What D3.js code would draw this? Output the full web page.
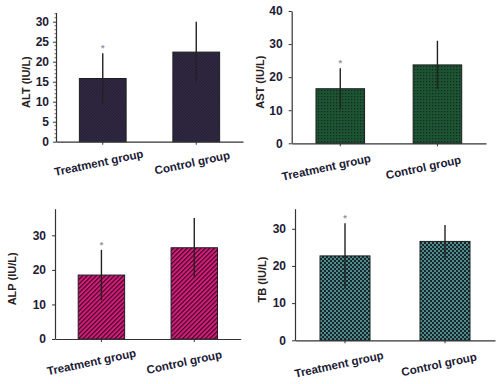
<!DOCTYPE html>
<html>
<head>
<meta charset="utf-8">
<script src="https://cdnjs.cloudflare.com/ajax/libs/d3/7.8.5/d3.min.js"></script>
<style>
  body { margin: 0; background: #fff; }
  svg text { font-family: "Liberation Sans", Arial, sans-serif; font-weight: bold; }
</style>
</head>
<body>
<svg width="500" height="384"></svg>
<script>
// data (mean and SD, IU/L)
var groups = ["Treatment group", "Control group"];
var altMean = [15.8, 22.4], altSd = [6.3, 7.6];
var astMean = [16.5, 23.7], astSd = [6.2, 7.3];
var alpMean = [18.5, 26.4], alpSd = [7.3, 8.6];
var tbMean  = [22.7, 26.6], tbSd  = [8.8, 4.4];
var altTicks = [0, 5, 10, 15, 20, 25, 30];
var astTicks = [0, 10, 20, 30, 40];
var alpTicks = [0, 10, 20, 30];
var tbTicks  = [0, 10, 20, 30];
var signif = [true, false]; // asterisk over treatment

var svg = d3.select("svg");
var defs = svg.append("defs");

// fill patterns
var p1 = defs.append("pattern").attr("id", "pAlt").attr("width", 3).attr("height", 3)
  .attr("patternUnits", "userSpaceOnUse");
p1.append("rect").attr("width", 3).attr("height", 3).attr("fill", "#29223a");
p1.append("path").attr("d", "M0,0L3,3").attr("stroke", "#352d48").attr("stroke-width", 0.8);

var p2 = defs.append("pattern").attr("id", "pAst").attr("width", 3).attr("height", 3)
  .attr("patternUnits", "userSpaceOnUse");
p2.append("rect").attr("width", 3).attr("height", 3).attr("fill", "#1d5434");
p2.append("rect").attr("width", 1.3).attr("height", 1.3).attr("fill", "#0f2c1c");

var p3 = defs.append("pattern").attr("id", "pAlp").attr("width", 3.2).attr("height", 3.2)
  .attr("patternUnits", "userSpaceOnUse").attr("patternTransform", "rotate(45)");
p3.append("rect").attr("width", 3.2).attr("height", 3.2).attr("fill", "#d81c7c");
p3.append("rect").attr("width", 1.2).attr("height", 3.2).attr("fill", "#3a0a24");

var p4 = defs.append("pattern").attr("id", "pTb").attr("width", 4).attr("height", 4)
  .attr("patternUnits", "userSpaceOnUse");
p4.append("rect").attr("width", 4).attr("height", 4).attr("fill", "#18262a");
p4.append("rect").attr("width", 2).attr("height", 2).attr("fill", "#4e8b8e");
p4.append("rect").attr("x", 2).attr("y", 2).attr("width", 2).attr("height", 2).attr("fill", "#4e8b8e");

// one panel per measurement
var panels = [
  {title: "ALT (IU/L)", mean: altMean, sd: altSd, ticks: altTicks, fill: "url(#pAlt)",
   x0: 56, x1: 243, y0: 141.7, y1: 12.5, ymax: 32.3, titleX: 26, labDx: -4, labDy: 21, minor: true},
  {title: "AST (IU/L)", mean: astMean, sd: astSd, ticks: astTicks, fill: "url(#pAst)",
   x0: 291.7, x1: 486, y0: 143.3, y1: 11, ymax: 40, titleX: 260, labDx: -14, labDy: 24, minor: false},
  {title: "ALP (IU/L)", mean: alpMean, sd: alpSd, ticks: alpTicks, fill: "url(#pAlp)",
   x0: 55, x1: 240.7, y0: 339, y1: 208.7, ymax: 37.7, titleX: 12, labDx: -10, labDy: 23, minor: false},
  {title: "TB (IU/L)", mean: tbMean, sd: tbSd, ticks: tbTicks, fill: "url(#pTb)",
   x0: 295, x1: 495, y0: 340.3, y1: 208.7, ymax: 35.4, titleX: 262, labDx: -6, labDy: 24, minor: false}
];

panels.forEach(function(p) {
  var x = d3.scaleBand().domain(groups).range([p.x0, p.x1]).paddingInner(0.5).paddingOuter(0.25);
  var y = d3.scaleLinear().domain([0, p.ymax]).range([p.y0, p.y1]);
  var g = svg.append("g");

  var rows = groups.map(function(name, i) {
    return {name: name, mean: p.mean[i], sd: p.sd[i], star: signif[i]};
  });

  // bars
  g.selectAll(".bar").data(rows).enter().append("rect")
    .attr("x", function(d) { return x(d.name); })
    .attr("width", x.bandwidth())
    .attr("y", function(d) { return y(d.mean); })
    .attr("height", function(d) { return p.y0 - y(d.mean); })
    .attr("fill", p.fill)
    .attr("stroke", "#1e1e1e").attr("stroke-width", 1);

  // error bars
  g.selectAll(".err").data(rows).enter().append("line")
    .attr("x1", function(d) { return x(d.name) + x.bandwidth() / 2; })
    .attr("x2", function(d) { return x(d.name) + x.bandwidth() / 2; })
    .attr("y1", function(d) { return y(d.mean - d.sd); })
    .attr("y2", function(d) { return y(d.mean + d.sd); })
    .attr("stroke", "#222").attr("stroke-width", 1.4);

  // asterisk
  g.selectAll(".star").data(rows.filter(function(d) { return d.star; })).enter().append("text")
    .attr("x", function(d) { return x(d.name) + x.bandwidth() / 2; })
    .attr("y", function(d) { return y(d.mean + d.sd) - 2; })
    .attr("text-anchor", "middle")
    .attr("font-size", 9).attr("fill", "#8e94a8")
    .text("*");

  // y axis
  var ya = g.append("g").attr("transform", "translate(" + p.x0 + ",0)")
    .call(d3.axisLeft(y).tickValues(p.ticks).tickSize(3).tickPadding(p.minor ? 4 : 6).tickSizeOuter(0));
  ya.select(".domain").attr("stroke", "#333").attr("stroke-width", 1.2);
  ya.selectAll(".tick line").attr("stroke", "#333");
  ya.selectAll("text").attr("font-size", 12).attr("fill", "#1b1b35");
  if (p.minor) {
    var minor = d3.range(0, p.ymax, 1).filter(function(v) { return v % 5 !== 0; });
    g.append("g").selectAll("line").data(minor).enter().append("line")
      .attr("x1", p.x0 - 1.5).attr("x2", p.x0)
      .attr("y1", function(v) { return y(v); }).attr("y2", function(v) { return y(v); })
      .attr("stroke", "#444").attr("stroke-width", 0.8);
  }

  // x axis
  var xa = g.append("g").attr("transform", "translate(0," + p.y0 + ")")
    .call(d3.axisBottom(x).tickSize(3).tickSizeOuter(0).tickFormat(""));
  xa.select(".domain").attr("stroke", "#333").attr("stroke-width", 1.2);
  xa.selectAll(".tick line").attr("stroke", "#333");

  // rotated category labels
  g.selectAll(".lab").data(groups).enter().append("text")
    .attr("transform", function(d) {
      var cx = x(d) + x.bandwidth() / 2 + p.labDx, cy = p.y0 + p.labDy;
      return "translate(" + cx + "," + cy + ") rotate(-12)";
    })
    .attr("text-anchor", "middle").attr("dy", "0.35em")
    .attr("font-size", 11.5).attr("fill", "#1b1b35")
    .text(function(d) { return d; });

  // y title
  g.append("text")
    .attr("transform", "translate(" + p.titleX + "," + ((p.y0 + p.y1) / 2 + 5) + ") rotate(-90)")
    .attr("text-anchor", "middle").attr("dy", "0.35em")
    .attr("font-size", 11).attr("fill", "#2a211c")
    .text(p.title);
});
</script>
</body>
</html>
